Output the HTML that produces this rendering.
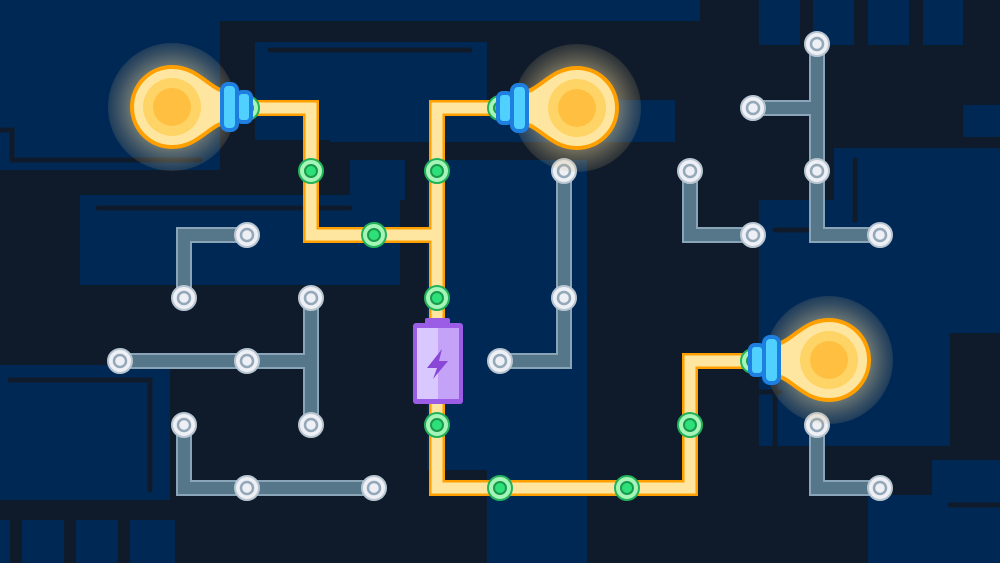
<!DOCTYPE html>
<html><head><style>html,body{margin:0;padding:0;background:#0f1b2a}svg{display:block}</style></head><body>
<svg width="1000" height="563" viewBox="0 0 1000 563" xmlns="http://www.w3.org/2000/svg">
<defs>
<radialGradient id="glow"><stop offset="0" stop-color="#fff2b0" stop-opacity="0.75"/><stop offset="0.6" stop-color="#e8d49a" stop-opacity="0.5"/><stop offset="1" stop-color="#c8b080" stop-opacity="0.15"/></radialGradient>
<g id="bulb">
<circle cx="0" cy="0" r="64" fill="url(#glow)"/>
<path d="M58,-15 C38,-15 28,-40 0,-40 A40,40 0 0 0 0,40 C28,40 38,15 58,15 Z" fill="#ffe6a0" stroke="#ffa000" stroke-width="4"/>
<circle r="29" fill="#ffd466"/><circle r="19" fill="#ffbf40"/>
<rect x="50" y="-23" width="15" height="46" rx="6" fill="#4fd0ff" stroke="#1e7fe0" stroke-width="4"/>
<rect x="65" y="-15" width="14" height="30" rx="5" fill="#4fd0ff" stroke="#1e7fe0" stroke-width="4"/>
</g>
</defs>
<rect width="1000" height="563" fill="#0f1b2a"/>
<g fill="#002855">
<rect x="0" y="0" width="700" height="21"/>
<rect x="0" y="0" width="220" height="170"/>
<rect x="255" y="42" width="232" height="98"/>
<rect x="330" y="100" width="345" height="42"/>
<rect x="80" y="195" width="320" height="90"/>
<rect x="350" y="160" width="55" height="40"/>
<rect x="0" y="365" width="170" height="135"/>
<rect x="427" y="160" width="160" height="310"/>
<rect x="487" y="470" width="100" height="93"/>
<rect x="759" y="0" width="41" height="45"/><rect x="813" y="0" width="41" height="45"/><rect x="868" y="0" width="41" height="45"/><rect x="923" y="0" width="40" height="45"/>
<rect x="963" y="105" width="37" height="32"/>
<rect x="834" y="148" width="166" height="60"/>
<rect x="759" y="200" width="241" height="133"/>
<rect x="759" y="328" width="191" height="118"/>
<rect x="932" y="460" width="68" height="35"/>
<rect x="868" y="495" width="132" height="68"/>
<rect x="0" y="520" width="10" height="43"/><rect x="22" y="520" width="42" height="43"/><rect x="76" y="520" width="42" height="43"/><rect x="130" y="520" width="45" height="43"/>
</g>
<g stroke="#0f1b2a" stroke-width="5" fill="none" stroke-linecap="round">
<path d="M0,130 H12 V160 H200"/><path d="M270,50 H470"/><path d="M98,208 H350"/><path d="M10,380 H150 V490"/>
<path d="M855,160 V220"/><path d="M775,230 H810"/><path d="M775,360 V465"/><path d="M700,392 H780"/><path d="M950,505 H1000"/>
</g>
<g fill="none" stroke-linejoin="miter">
<g stroke="#8aa4b8" stroke-width="16">
<path d="M247,235H184V298"/><path d="M120,361H311"/><path d="M311,298V425"/><path d="M184,425V488H374"/><path d="M564,171V361H500"/><path d="M690,171V235H753"/><path d="M817,44V235H880"/><path d="M753,108H817"/><path d="M817,425V488H880"/>
</g>
<g stroke="#567689" stroke-width="12">
<path d="M247,235H184V298"/><path d="M120,361H311"/><path d="M311,298V425"/><path d="M184,425V488H374"/><path d="M564,171V361H500"/><path d="M690,171V235H753"/><path d="M817,44V235H880"/><path d="M753,108H817"/><path d="M817,425V488H880"/>
</g>
<g stroke="#ffa000" stroke-width="16">
<path d="M247,108H311V235H437"/><path d="M500,108H437V488H690V361H753"/>
</g>
<g stroke="#ffe6a0" stroke-width="11">
<path d="M247,108H311V235H437"/><path d="M500,108H437V488H690V361H753"/>
</g>
</g>
<g fill="#eef0f6" stroke="#b8c6d2" stroke-width="2">
<circle cx="247" cy="235" r="12"/><circle cx="184" cy="298" r="12"/><circle cx="120" cy="361" r="12"/><circle cx="247" cy="361" r="12"/><circle cx="311" cy="298" r="12"/><circle cx="311" cy="425" r="12"/><circle cx="184" cy="425" r="12"/><circle cx="247" cy="488" r="12"/><circle cx="374" cy="488" r="12"/><circle cx="564" cy="171" r="12"/><circle cx="564" cy="298" r="12"/><circle cx="500" cy="361" r="12"/><circle cx="690" cy="171" r="12"/><circle cx="753" cy="235" r="12"/><circle cx="817" cy="44" r="12"/><circle cx="753" cy="108" r="12"/><circle cx="817" cy="171" r="12"/><circle cx="880" cy="235" r="12"/><circle cx="817" cy="425" r="12"/><circle cx="880" cy="488" r="12"/>
</g>
<g fill="none" stroke="#93a8b8" stroke-width="2.5">
<circle cx="247" cy="235" r="6"/><circle cx="184" cy="298" r="6"/><circle cx="120" cy="361" r="6"/><circle cx="247" cy="361" r="6"/><circle cx="311" cy="298" r="6"/><circle cx="311" cy="425" r="6"/><circle cx="184" cy="425" r="6"/><circle cx="247" cy="488" r="6"/><circle cx="374" cy="488" r="6"/><circle cx="564" cy="171" r="6"/><circle cx="564" cy="298" r="6"/><circle cx="500" cy="361" r="6"/><circle cx="690" cy="171" r="6"/><circle cx="753" cy="235" r="6"/><circle cx="817" cy="44" r="6"/><circle cx="753" cy="108" r="6"/><circle cx="817" cy="171" r="6"/><circle cx="880" cy="235" r="6"/><circle cx="817" cy="425" r="6"/><circle cx="880" cy="488" r="6"/>
</g>
<g fill="#a6f5b8" stroke="#22b35a" stroke-width="2">
<circle cx="311" cy="171" r="12"/><circle cx="374" cy="235" r="12"/><circle cx="437" cy="171" r="12"/><circle cx="437" cy="298" r="12"/><circle cx="437" cy="425" r="12"/><circle cx="500" cy="488" r="12"/><circle cx="627" cy="488" r="12"/><circle cx="690" cy="425" r="12"/><circle cx="247" cy="108" r="12"/><circle cx="500" cy="108" r="12"/><circle cx="753" cy="361" r="12"/>
</g>
<g fill="#2ee07a" stroke="#1a9a4c" stroke-width="2">
<circle cx="311" cy="171" r="6"/><circle cx="374" cy="235" r="6"/><circle cx="437" cy="171" r="6"/><circle cx="437" cy="298" r="6"/><circle cx="437" cy="425" r="6"/><circle cx="500" cy="488" r="6"/><circle cx="627" cy="488" r="6"/><circle cx="690" cy="425" r="6"/><circle cx="247" cy="108" r="6"/><circle cx="500" cy="108" r="6"/><circle cx="753" cy="361" r="6"/>
</g>
<use href="#bulb" transform="translate(172,107)"/>
<use href="#bulb" transform="translate(577,108) scale(-1,1)"/>
<use href="#bulb" transform="translate(829,360) scale(-1,1)"/>
<rect x="425" y="318" width="25" height="9" rx="2" fill="#9b5de5"/>
<rect x="413" y="323" width="50" height="81" rx="3" fill="#9b5de5"/>
<rect x="417" y="328" width="21" height="71" fill="#d8c8ff"/>
<rect x="438" y="328" width="21" height="71" fill="#c3a2f8"/>
<path d="M442,349 L427,368 H437 L433,379 L448,361 H439 Z" fill="#8a46d6"/>
</svg>
</body></html>
